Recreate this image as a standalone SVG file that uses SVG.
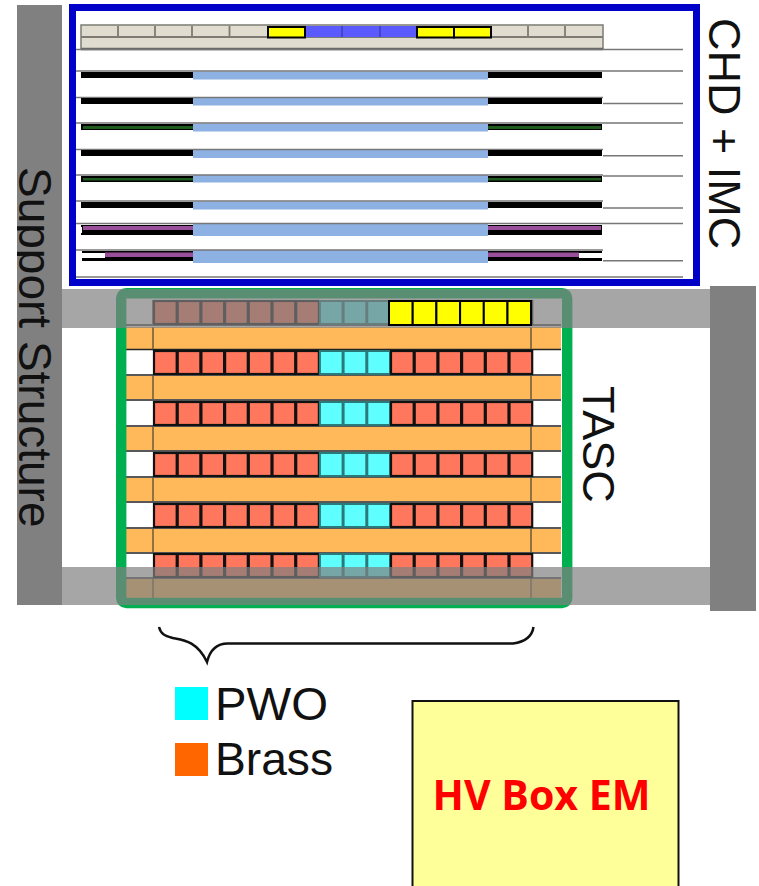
<svg xmlns="http://www.w3.org/2000/svg" width="759" height="886" viewBox="0 0 759 886">
<defs>
<clipPath id="supportClip"><rect x="17" y="0" width="60" height="886"/></clipPath>
<style>
.t{font-family:"Liberation Sans",Arial,sans-serif;fill:#111}
.b{fill:#8db1e2}
.k{fill:#000}
.l{stroke:#777;stroke-width:1.5;fill:none}
.c{fill:#ff775c;stroke:#111;stroke-width:2.200}
.p{fill:#5fffff;stroke:#2a7a7a;stroke-width:2}
.y{fill:#ff0;stroke:#000;stroke-width:2}
.o{fill:#ffb95a}
.sep{stroke:#222;stroke-width:1.5;fill:none}
.g{fill:#1f5a1f}
.m{fill:#9a4f9a}
</style>
<g id="row">
<rect class="c" x="154" y="0" width="22.7" height="23"/><rect class="c" x="177.700" y="0" width="22.7" height="23"/><rect class="c" x="201.400" y="0" width="22.7" height="23"/><rect class="c" x="225.100" y="0" width="22.7" height="23"/><rect class="c" x="248.800" y="0" width="22.7" height="23"/><rect class="c" x="272.500" y="0" width="22.7" height="23"/><rect class="c" x="296.200" y="0" width="22.7" height="23"/>
<rect class="p" x="319.900" y="0" width="22.700" height="23"/><rect class="p" x="343.600" y="0" width="22.700" height="23"/><rect class="p" x="367.300" y="0" width="22.700" height="23"/>
<rect class="c" x="391" y="0" width="22.700" height="23"/><rect class="c" x="414.700" y="0" width="22.700" height="23"/><rect class="c" x="438.400" y="0" width="22.700" height="23"/><rect class="c" x="462.100" y="0" width="22.700" height="23"/><rect class="c" x="485.800" y="0" width="22.700" height="23"/><rect class="c" x="509.500" y="0" width="22.700" height="23"/>
</g>
</defs>
<rect width="759" height="886" fill="#fff"/>
<g id="chd-imc">
<rect x="81" y="25" width="522" height="24" fill="#e0dccf" stroke="#7c7c74" stroke-width="1.500"/>
<path d="M81 37H603M118 26V37M155 26V37M192 26V37M229.500 26V37M528 26V37M565 26V37" stroke="#7c7c74" stroke-width="1.800" fill="none"/>
<rect x="305" y="26" width="112" height="11" fill="#5a5aff"/>
<path d="M342 26V37M380 26V37" stroke="#3f3fb0" stroke-width="1.500"/>
<rect class="y" x="268" y="27" width="37" height="10.500"/><rect class="y" x="417" y="27" width="37" height="10.500"/><rect class="y" x="454" y="27" width="37" height="10.500"/>
<path d="M81 49H603" stroke="#666" stroke-width="2.500"/>
<g id="layers">
<rect class="b" x="193" y="71.500" width="295" height="8"/>
<rect class="b" x="193" y="98" width="295" height="7.500"/>
<rect class="b" x="193" y="123.500" width="295" height="8"/>
<rect class="b" x="193" y="150" width="295" height="8"/>
<rect class="b" x="193" y="175" width="295" height="7.500"/>
<rect class="b" x="193" y="201.500" width="295" height="8"/>
<rect class="b" x="193" y="223" width="295" height="13"/>
<rect class="b" x="193" y="250" width="295" height="13"/>
<path class="l" d="M76 49.500H683M76 71H683M76 97.500H603M603 103.500H683M76 123H683M76 149.500H603M603 155.700H683M76 175H603M603 176H683M76 201H603M603 208H683M76 223.500H683M76 250H603M603 260.700H683M76 277H683"/>
<path class="k" d="M81 72H193V78H81ZM488 72H602V78H488ZM81 98H193V104H81ZM488 98H602V104H488ZM81 124H193V130H81ZM488 124H602V130H488ZM81 150H193V156H81ZM488 150H602V156H488ZM81 176H193V182H81ZM488 176H602V182H488ZM81 202H193V208H81ZM488 202H602V208H488ZM81 225H193V235H81ZM488 225H602V235H488ZM82 251H193V261H82ZM488 251H602V261H488Z"/>
<path class="g" d="M83 126H193V129H83ZM488 126H601V129H488ZM83 178H193V180.500H83ZM488 178H601V180.500H488Z"/>
<path class="m" d="M83 226H193V230H83ZM488 226H601V230H488ZM105 252.500H193V257H105ZM488 252.500H579V257H488Z"/>
<path fill="#fff" d="M76 253H105V258H76ZM579 253H603V258H579ZM76 74H81V77H76ZM76 100H81V103H76ZM76 126H81V129H76ZM76 152H81V155H76ZM76 178H81V181H76ZM76 204H81V207H76ZM76 227H82V233H76Z"/>
</g>
<rect x="72.500" y="7.500" width="624" height="275" fill="none" stroke="#0000c8" stroke-width="7"/>
</g>
<g id="tasc-body">
<rect class="o" x="126" y="327" width="435" height="22"/><rect class="o" x="126" y="376" width="435" height="23"/><rect class="o" x="126" y="427" width="435" height="23"/><rect class="o" x="126" y="478" width="435" height="23"/><rect class="o" x="126" y="529" width="435" height="23"/><rect class="o" x="126" y="579" width="435" height="20"/>
<path class="sep" d="M126 325H561M126 349.500H561M126 375H561M126 400H561M126 426H561M126 451H561M126 477H561M126 502H561M126 528H561M126 553H561M126 578H561"/>
<path d="M153 327V349M531 327V349M153 376V399M531 376V399M153 427V450M531 427V450M153 478V501M531 478V501M153 529V552M531 529V552M153 579V598M531 579V598M153 300V325M531 300V325" stroke="#8f7240" stroke-width="2" fill="none"/>
<use href="#row" y="351"/><use href="#row" y="402"/><use href="#row" y="453"/><use href="#row" y="504"/><use href="#row" y="554"/><use href="#row" y="301"/>
</g>
<g id="tasc">
<rect x="121.200" y="293.200" width="446" height="309.800" rx="5" fill="none" stroke="#00b050" stroke-width="10.400"/>
</g>
<g id="support-structure">
<rect x="17" y="5" width="45" height="600" fill="#808080"/>
<rect x="710" y="286" width="46" height="325" fill="#808080"/>
<rect x="62" y="289" width="648" height="39" fill="#808080" fill-opacity=".7"/>
<rect x="62" y="567" width="648" height="38" fill="#808080" fill-opacity=".7"/>
<g clip-path="url(#supportClip)"><text class="t" transform="translate(19 167) rotate(90)" font-size="46">Support Structure</text></g>
</g>
<g id="yellow-cells">
<rect class="y" x="389" y="301" width="23.700" height="24"/><rect class="y" x="412.700" y="301" width="23.700" height="24"/><rect class="y" x="436.400" y="301" width="23.700" height="24"/><rect class="y" x="460.100" y="301" width="23.700" height="24"/><rect class="y" x="483.800" y="301" width="23.700" height="24"/><rect class="y" x="507.500" y="301" width="23.500" height="24"/>
</g>
<g id="brace">
<path d="M159 627C161 635 166 636 173 638 183 640 197 641 207 662 210 650 217 643 229 643.500H513C524 642 532 637 533.500 627" fill="none" stroke="#111" stroke-width="2.500"/>
</g>
<text class="t" transform="translate(583 386) rotate(90)" font-size="45">TASC</text>
<text class="t" transform="translate(709 18) rotate(90)" font-size="45">CHD + IMC</text>
<g id="legend">
<rect x="175" y="687" width="33" height="33" fill="#0ff"/>
<rect x="175" y="743" width="33" height="33" fill="#f60"/>
<text class="t" x="215" y="720" font-size="46" textLength="113" lengthAdjust="spacingAndGlyphs">PWO</text>
<text class="t" x="215" y="775" font-size="46" textLength="118" lengthAdjust="spacingAndGlyphs">Brass</text>
</g>
<g id="hv-box">
<rect x="412.500" y="701" width="266" height="190" fill="#ffff99" stroke="#111" stroke-width="2"/>
<text x="541.500" y="810" font-family="'Open Sans',sans-serif" font-weight="700" font-size="41.500" fill="#f00" text-anchor="middle" textLength="218" lengthAdjust="spacingAndGlyphs">HV Box EM</text>
</g>
</svg>
